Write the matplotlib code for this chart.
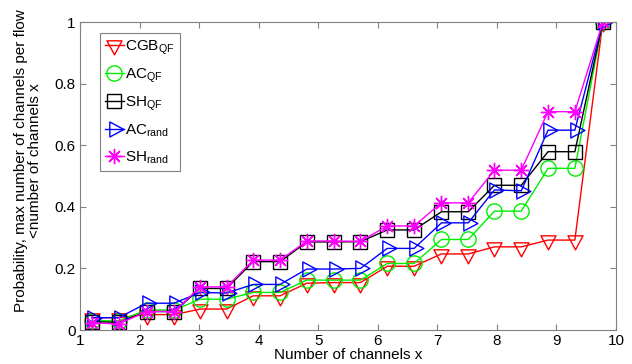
import matplotlib.pyplot as plt
from matplotlib.path import Path

plt.rcParams['font.family'] = ['Liberation Sans', 'DejaVu Sans']
plt.rcParams['mathtext.fontset'] = 'custom'
plt.rcParams['mathtext.rm'] = 'Liberation Sans'

# ---------------- DATA ----------------
channels = [1.2, 1.65, 2.12, 2.58, 3.02, 3.46, 3.91, 4.36, 4.81, 5.26,
            5.71, 6.16, 6.61, 7.07, 7.52, 7.96, 8.41, 8.86, 9.31, 9.78]

cgb_qf = [0.04, 0.04, 0.05, 0.05, 0.068, 0.068, 0.111, 0.111, 0.152, 0.154,
          0.154, 0.207, 0.207, 0.247, 0.247, 0.27, 0.27, 0.292, 0.292, 1.0]
ac_qf = [0.03, 0.03, 0.065, 0.065, 0.1, 0.1, 0.122, 0.122, 0.162, 0.162,
         0.162, 0.216, 0.216, 0.294, 0.294, 0.386, 0.386, 0.525, 0.525, 1.0]
sh_qf = [0.027, 0.025, 0.06, 0.06, 0.135, 0.135, 0.222, 0.222, 0.286, 0.286,
         0.287, 0.325, 0.325, 0.384, 0.384, 0.47, 0.47, 0.579, 0.579, 1.0]
ac_rand = [0.04, 0.04, 0.087, 0.087, 0.122, 0.12, 0.148, 0.148, 0.198, 0.198,
           0.2, 0.265, 0.265, 0.348, 0.348, 0.455, 0.452, 0.649, 0.649, 1.0]
sh_rand = [0.023, 0.02, 0.06, 0.06, 0.14, 0.14, 0.227, 0.227, 0.289, 0.289,
           0.288, 0.338, 0.338, 0.413, 0.413, 0.519, 0.519, 0.709, 0.709, 1.0]

labels = ['CGB$_{\\mathrm{QF}}$', 'AC$_{\\mathrm{QF}}$', 'SH$_{\\mathrm{QF}}$',
          'AC$_{\\mathrm{rand}}$', 'SH$_{\\mathrm{rand}}$']
colors = ['#ff0000', '#00ee00', 'black', '#0000ff', '#ff00ff']

# triangles centred on their centroid, like MATLAB draws them
tri_down = Path([(-1, 0.62), (1, 0.62), (0, -1.245), (-1, 0.62)], closed=True)
tri_right = Path([(-0.62, 1), (-0.62, -1), (1.245, 0), (-0.62, 1)], closed=True)
markers = [tri_down, 'o', 's', tri_right, (8, 2, 0)]
sizes = [13.5, 11, 9.5, 13.5, 11]

# ---------------- PLOT ----------------
fig = plt.figure(figsize=(6.32, 3.64), dpi=100)
ax = fig.add_axes([0.1266, 0.0934, 0.848, 0.846])

series = [cgb_qf, ac_qf, sh_qf, ac_rand, sh_rand]
for vals, lab, col, mk, ms in zip(series, labels, colors, markers, sizes):
    ax.plot(channels, vals, color=col, marker=mk, markersize=ms,
            markerfacecolor='none', markeredgecolor=col, markeredgewidth=1.0,
            linewidth=1.0, label=lab)

ax.set_xlim(1, 10)
ax.set_ylim(0, 1)
ax.set_xticks(range(1, 11))
ax.set_yticks([0, 0.2, 0.4, 0.6, 0.8, 1])
ax.set_yticklabels(['0', '0.2', '0.4', '0.6', '0.8', '1'])
ax.tick_params(direction='in', top=True, right=True, labelsize=11,
               length=4, color='#808080', pad=3)
for sp in ax.spines.values():
    sp.set_color('#808080')

ax.set_xlabel('Number of channels x', fontsize=11, labelpad=0)
ax.set_ylabel('Probability, max number of channels per flow\n<number of channels x',
              fontsize=11, linespacing=1.0)
ax.yaxis.set_label_coords(-0.07, 0.55)

leg = ax.legend(loc='upper left', bbox_to_anchor=(0.037, 0.964), borderaxespad=0,
                fontsize=11, handlelength=1.2, handletextpad=0.1,
                labelspacing=0.62, fancybox=False, framealpha=1,
                borderpad=0.35)
leg.get_frame().set_edgecolor('#808080')
leg.get_frame().set_linewidth(0.8)

fig.savefig('out.png', dpi=100)
